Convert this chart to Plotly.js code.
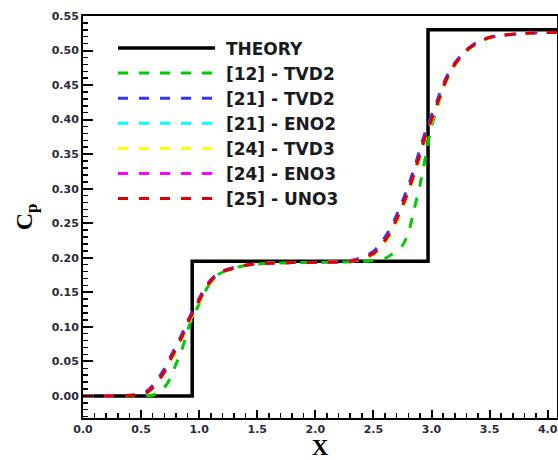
<!DOCTYPE html>
<html>
<head>
<meta charset="utf-8">
<script src="https://cdn.plot.ly/plotly-3.0.1.min.js"></script>
<style>html,body{margin:0;padding:0;background:#fff;}#chart{width:558px;height:460px;}</style>
</head>
<body>
<div id="chart"></div>
<script>
// Theory (exact step solution)
const theoryX = [0, 0.94, 0.94, 2.97, 2.97, 4.08];
const theoryY = [0, 0, 0.195, 0.195, 0.53, 0.53];

// Common x sampling for numerical solutions
const xs = [0.0, 0.2, 0.4, 0.5, 0.55, 0.6, 0.65, 0.7, 0.75, 0.8, 0.85, 0.9, 0.95, 1.0, 1.05, 1.1, 1.15, 1.2, 1.3, 1.4, 1.5, 1.6, 1.8, 2.0, 2.2, 2.3, 2.4, 2.45, 2.5, 2.55, 2.6, 2.65, 2.7, 2.75, 2.8, 2.85, 2.9, 2.95, 3.0, 3.05, 3.1, 3.15, 3.2, 3.3, 3.4, 3.5, 3.6, 3.8, 4.0, 4.08];

const tvd2_12 = [0, 0, 0, 0, 0, 0.001, 0.005, 0.012, 0.025, 0.046, 0.066, 0.095, 0.116, 0.133, 0.151, 0.164, 0.174, 0.179, 0.185, 0.189, 0.191, 0.192, 0.193, 0.193, 0.194, 0.194, 0.195, 0.195, 0.196, 0.197, 0.199, 0.204, 0.210, 0.218, 0.235, 0.270, 0.305, 0.348, 0.390, 0.418, 0.445, 0.465, 0.479, 0.500, 0.512, 0.519, 0.522, 0.525, 0.526, 0.526];
const tvd2_21 = [0, 0, 0.001, 0.003, 0.007, 0.015, 0.026, 0.039, 0.056, 0.072, 0.089, 0.108, 0.125, 0.141, 0.157, 0.168, 0.176, 0.181, 0.186, 0.189, 0.191, 0.192, 0.193, 0.193, 0.194, 0.196, 0.200, 0.204, 0.209, 0.218, 0.230, 0.244, 0.262, 0.282, 0.304, 0.329, 0.357, 0.384, 0.406, 0.428, 0.451, 0.469, 0.482, 0.501, 0.513, 0.519, 0.522, 0.525, 0.526, 0.526];
const eno2_21 = [0, 0, 0.0005, 0.002, 0.004, 0.011, 0.021, 0.034, 0.050, 0.066, 0.083, 0.103, 0.120, 0.136, 0.153, 0.165, 0.174, 0.179, 0.185, 0.189, 0.191, 0.192, 0.193, 0.193, 0.194, 0.195, 0.198, 0.201, 0.205, 0.212, 0.223, 0.236, 0.253, 0.272, 0.294, 0.319, 0.347, 0.375, 0.398, 0.421, 0.445, 0.464, 0.479, 0.499, 0.511, 0.518, 0.522, 0.525, 0.526, 0.526];
const tvd3_24 = [0, 0, 0.0005, 0.002, 0.004, 0.011, 0.020, 0.033, 0.049, 0.065, 0.082, 0.102, 0.119, 0.135, 0.152, 0.164, 0.174, 0.179, 0.185, 0.189, 0.191, 0.192, 0.193, 0.193, 0.194, 0.195, 0.198, 0.201, 0.205, 0.212, 0.222, 0.235, 0.252, 0.271, 0.293, 0.318, 0.346, 0.374, 0.397, 0.420, 0.444, 0.463, 0.478, 0.499, 0.511, 0.518, 0.522, 0.525, 0.526, 0.526];
const eno3_24 = [0, 0, 0.0005, 0.002, 0.005, 0.012, 0.022, 0.035, 0.052, 0.068, 0.085, 0.105, 0.122, 0.138, 0.155, 0.166, 0.175, 0.180, 0.185, 0.189, 0.191, 0.192, 0.193, 0.193, 0.194, 0.195, 0.199, 0.202, 0.206, 0.214, 0.225, 0.238, 0.256, 0.275, 0.297, 0.322, 0.350, 0.378, 0.400, 0.423, 0.447, 0.466, 0.480, 0.500, 0.512, 0.519, 0.522, 0.525, 0.526, 0.526];
const uno3_25 = [0, 0, 0.0005, 0.002, 0.005, 0.012, 0.022, 0.035, 0.052, 0.068, 0.085, 0.105, 0.122, 0.138, 0.155, 0.166, 0.175, 0.180, 0.185, 0.189, 0.191, 0.192, 0.193, 0.193, 0.194, 0.195, 0.199, 0.202, 0.206, 0.214, 0.225, 0.238, 0.256, 0.275, 0.297, 0.322, 0.350, 0.378, 0.400, 0.423, 0.447, 0.466, 0.480, 0.500, 0.512, 0.519, 0.522, 0.525, 0.526, 0.526];

const theoryName = 'THEORY';
const seriesNames = ['[12] - TVD2', '[21] - TVD2', '[21] - ENO2', '[24] - TVD3', '[24] - ENO3', '[25] - UNO3'];
const seriesValues = [tvd2_12, tvd2_21, eno2_21, tvd3_24, eno3_24, uno3_25];
const seriesColors = ['#00cc00', '#3333ff', '#00ffff', '#ffff00', '#ff00ff', '#dd0000'];

const pad = '\u00A0';
const traces = [{
  x: theoryX, y: theoryY, name: pad + theoryName, mode: 'lines',
  line: {color: '#000000', width: 3.5}
}];
seriesNames.forEach((n, i) => {
  traces.push({
    x: xs, y: seriesValues[i], name: pad + n, mode: 'lines',
    line: {color: seriesColors[i], width: 3, dash: '10px,11px', shape: 'spline', smoothing: 0.6}
  });
});

const tickFont = {family: 'DejaVu Sans', size: 11, weight: 'bold', color: '#2b2b3a'};

const layout = {
  width: 558, height: 460,
  margin: {l: 83, r: 1, t: 16, b: 42},
  paper_bgcolor: '#ffffff', plot_bgcolor: '#ffffff',
  showlegend: true,
  legend: {
    x: 0.0633, y: 0.964, xanchor: 'left', yanchor: 'top',
    bgcolor: 'rgba(0,0,0,0)', borderwidth: 0,
    itemwidth: 97,
    font: {family: 'DejaVu Sans', size: 17, weight: 'bold', color: '#1a1a22'}
  },
  xaxis: {
    range: [0, 4.08], tickmode: 'linear', tick0: 0, dtick: 0.5, tickformat: '.1f',
    ticks: 'inside', ticklen: 8, tickwidth: 2, tickcolor: '#000',
    minor: {dtick: 0.1, ticks: 'inside', ticklen: 5, tickwidth: 1.5, tickcolor: '#000', showgrid: false},
    showline: true, linecolor: '#000', linewidth: 2, mirror: true,
    showgrid: false, zeroline: false, tickfont: tickFont,
    title: {text: 'X', font: {family: 'Liberation Serif, Times New Roman', size: 23, weight: 'bold', color: '#000'}, standoff: 9}
  },
  yaxis: {
    range: [-0.032, 0.55], tickmode: 'linear', tick0: 0, dtick: 0.05, tickformat: '.2f',
    ticks: 'inside', ticklen: 10, tickwidth: 2, tickcolor: '#000',
    minor: {dtick: 0.01, ticks: 'inside', ticklen: 5, tickwidth: 1.5, tickcolor: '#000', showgrid: false},
    showline: true, linecolor: '#000', linewidth: 2, mirror: true,
    showgrid: false, zeroline: false, tickfont: tickFont,
    title: {text: 'C<sub>p</sub>', font: {family: 'Liberation Serif, Times New Roman', size: 24, weight: 'bold', color: '#000'}, standoff: 12}
  }
};

Plotly.newPlot('chart', traces, layout, {staticPlot: true, displayModeBar: false});
</script>
</body>
</html>
